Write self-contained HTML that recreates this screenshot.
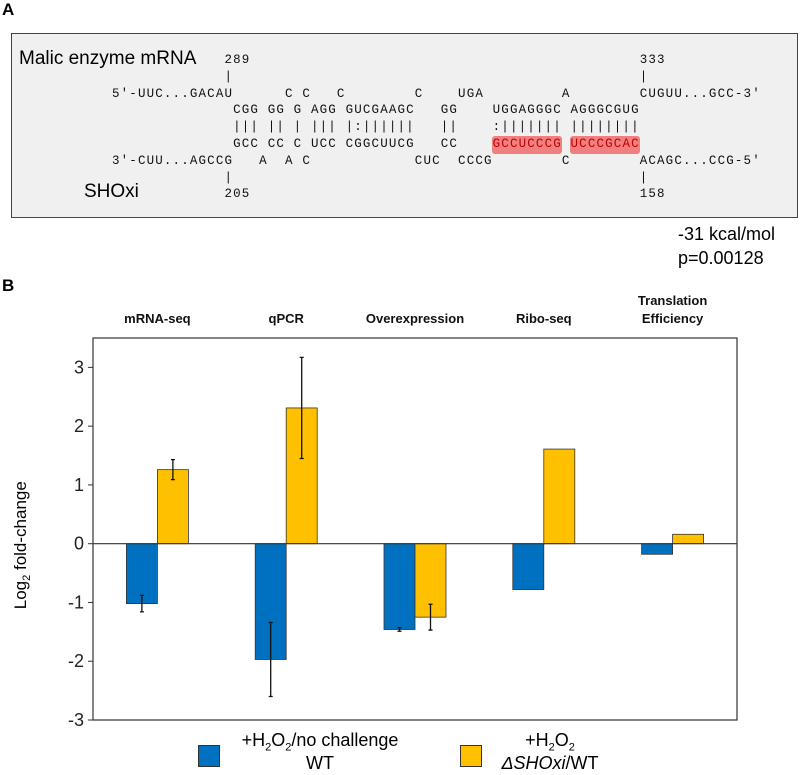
<!DOCTYPE html>
<html><head><meta charset="utf-8"><style>
body{margin:0;width:800px;height:773px;background:#fff;position:relative;overflow:hidden;font-family:"Liberation Sans",sans-serif}
.abs{position:absolute}
pre{margin:0;font-family:"Liberation Mono",monospace;font-size:12.5px;letter-spacing:1.15px;line-height:16.8px;color:#111}
</style></head><body>
<div class="abs" style="left:2px;top:0;font-weight:bold;font-size:17px">A</div>
<div class="abs" style="left:11px;top:33px;width:785px;height:183px;background:#f0f0f0;border:1px solid #444"></div>
<div class="abs" style="left:19px;top:48px;font-size:19px;white-space:nowrap">Malic enzyme mRNA</div>
<div class="abs" style="left:84px;top:181px;font-size:19px">SHOxi</div>
<div class="abs" style="left:492px;top:136px;width:70px;height:18px;background:#f08080;border-radius:3px"></div>
<div class="abs" style="left:570px;top:136px;width:70px;height:18px;background:#f08080;border-radius:3px"></div>
<pre class="abs" style="left:112px;top:52px">             289                                             333
             |                                               |
5'-UUC...GACAU      C C   C        C    UGA         A        CUGUU...GCC-3'
              CGG GG G AGG GUCGAAGC   GG    UGGAGGGC AGGGCGUG
              ||| || | ||| |:||||||   ||    :||||||| ||||||||
              GCC CC C UCC CGGCUUCG   CC    <span style="color:#c00000">GCCUCCCG</span> <span style="color:#c00000">UCCCGCAC</span>
3'-CUU...AGCCG   A  A C            CUC  CCCG        C        ACAGC...CCG-5'
             |                                               |
             205                                             158</pre>
<div class="abs" style="left:678px;top:222px;font-size:18px;line-height:24px;white-space:nowrap">-31 kcal/mol<br>p=0.00128</div>
<div class="abs" style="left:2px;top:276px;font-weight:bold;font-size:17px">B</div>
<svg class="abs" style="left:0;top:0" width="800" height="773" id="chart"></svg>
<script>
const categories=["mRNA-seq","qPCR","Overexpression","Ribo-seq","Translation Efficiency"];
const blueValues=[-1.02,-1.97,-1.46,-0.78,-0.18];
const blueErrors=[0.14,0.63,0.03,0,0];
const yellowValues=[1.26,2.31,-1.25,1.61,0.16];
const yellowErrors=[0.17,0.86,0.22,0,0];
const yTicks=[3,2,1,0,-1,-2,-3];
const NS="http://www.w3.org/2000/svg";
const svg=document.getElementById('chart');
const L=93,R=737,T=338,B=720,yMin=-3,yMax=3.5;
const y=v=>B-(v-yMin)/(yMax-yMin)*(B-T);
const gw=(R-L)/categories.length;
const xc=i=>L+gw*(i+0.5);
function mk(tag,attrs){const e=document.createElementNS(NS,tag);for(const k in attrs)e.setAttribute(k,attrs[k]);svg.appendChild(e);return e;}
const frame=mk('rect',{x:L,y:T,width:R-L,height:B-T,fill:'none',stroke:'#333','stroke-width':1.2});


yTicks.forEach(t=>{
  const ln=mk('line',{x1:L-5,x2:L,y1:y(t),y2:y(t),stroke:'#333'});
  
  
  const tx=mk('text',{x:L-9,y:y(t)+6,'text-anchor':'end','font-size':18,fill:'#222'});
  tx.textContent=t;
  
  
});
const bw=31;
function bar(i,v,e,color,off,name){
  const r=mk('rect',{x:xc(i)+off,y:Math.min(y(v),y(0)),width:bw,height:Math.abs(y(v)-y(0)),fill:color,stroke:'#333','stroke-width':0.8});
  
  
  if(e>0){
    const cx=xc(i)+off+bw/2;
    const eb=mk('path',{d:`M${cx},${y(v+e)}V${y(v-e)}M${cx-2},${y(v+e)}h4M${cx-2},${y(v-e)}h4`,stroke:'#111','stroke-width':1.3,fill:'none'});
    
    
  }
}
categories.forEach((c,i)=>{
  bar(i,blueValues[i],blueErrors[i],'#0070c0',-bw,'bar-blue-'+(i+1));
  bar(i,yellowValues[i],yellowErrors[i],'#ffc000',0,'bar-yellow-'+(i+1));
  const words=c==="Translation Efficiency"?["Translation","Efficiency"]:[c];
  words.forEach((w,k)=>{
    const tx=mk('text',{x:xc(i),y:323-(words.length-1-k)*18,'text-anchor':'middle','font-size':13,'font-weight':'bold',fill:'#111'});
    tx.textContent=w;
    
    
  });
});
const zl=mk('line',{x1:L,x2:R,y1:y(0),y2:y(0),stroke:'#333','stroke-width':1.2});


</script>
<div class="abs" style="left:-53px;top:534px;width:150px;text-align:center;font-size:17px;white-space:nowrap;transform:rotate(-90deg)">Log<sub style="font-size:11px">2</sub> fold-change</div>
<div class="abs" style="left:198px;top:745px;width:20px;height:20px;background:#0070c0;border:1px solid #333"></div>
<div class="abs" style="left:220px;top:729px;width:200px;text-align:center;font-size:18px;line-height:23px;white-space:nowrap">+H<sub style="font-size:11px;line-height:0">2</sub>O<sub style="font-size:11px;line-height:0">2</sub>/no challenge<br>WT</div>
<div class="abs" style="left:460px;top:745px;width:20px;height:20px;background:#ffc000;border:1px solid #333"></div>
<div class="abs" style="left:490px;top:729px;width:120px;text-align:center;font-size:18px;line-height:23px;white-space:nowrap">+H<sub style="font-size:11px;line-height:0">2</sub>O<sub style="font-size:11px;line-height:0">2</sub><br><i>ΔSHOxi</i>/WT</div>
</body></html>
